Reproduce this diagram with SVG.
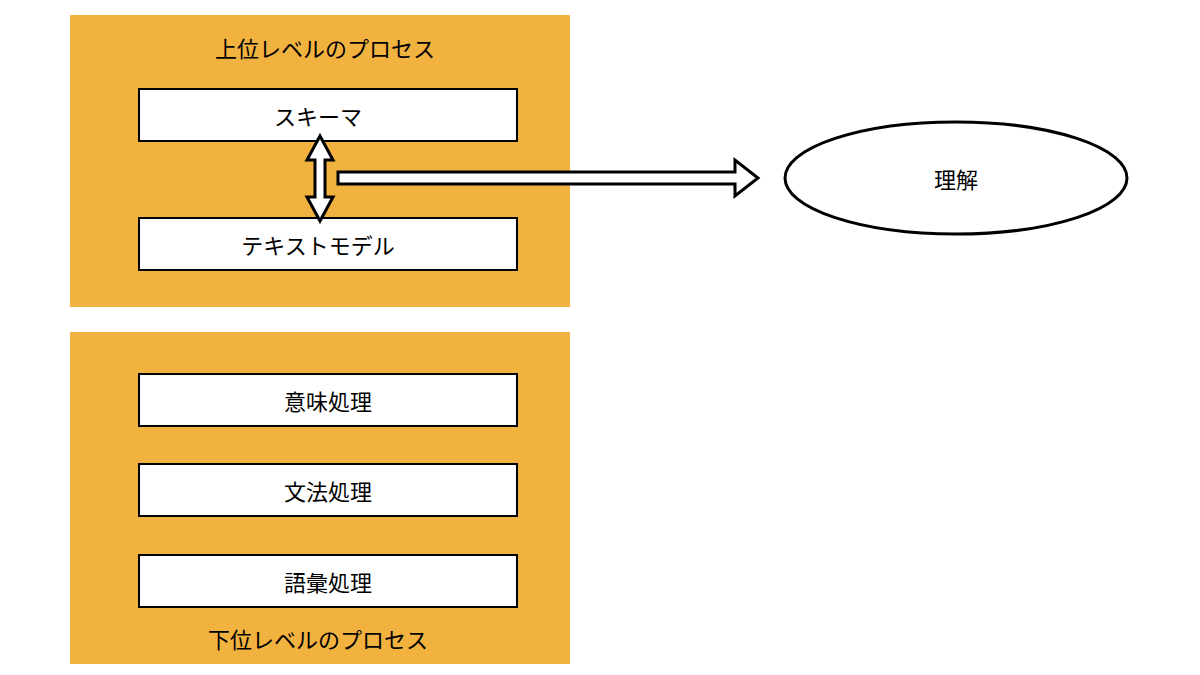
<svg xmlns="http://www.w3.org/2000/svg" width="1200" height="675" viewBox="0 0 1200 675">
<style>
.panel{fill:#F2B240}
.box{fill:#fff;stroke:#000;stroke-width:2}
.arr{fill:#fff;stroke:#000;stroke-width:3;stroke-linejoin:miter}
text{font-family:"Noto Sans CJK JP","Noto Sans",sans-serif;font-size:22px;fill:#000;text-anchor:middle;dominant-baseline:central}
</style>
<rect width="1200" height="675" fill="#fff"/>
<g id="upper"><rect class="panel" x="70" y="15" width="500" height="292"/><text x="325" y="47">上位レベルのプロセス</text></g>
<g id="lower"><rect class="panel" x="70" y="332" width="500" height="332"/><text x="318" y="638">下位レベルのプロセス</text></g>
<g id="schema"><rect class="box" x="139" y="89" width="378" height="52"/><text x="318" y="115">スキーマ</text></g>
<g id="textmodel"><rect class="box" x="139" y="218" width="378" height="52"/><text x="318" y="244">テキストモデル</text></g>
<g id="semantic"><rect class="box" x="139" y="374" width="378" height="52"/><text x="328" y="400">意味処理</text></g>
<g id="grammar"><rect class="box" x="139" y="464" width="378" height="52"/><text x="328" y="490">文法処理</text></g>
<g id="lexical"><rect class="box" x="139" y="555" width="378" height="52"/><text x="328" y="581">語彙処理</text></g>
<g id="understanding"><ellipse cx="956" cy="178" rx="171" ry="56" fill="#fff" stroke="#000" stroke-width="3"/><text x="956" y="178">理解</text></g>
<g id="connectors">
<path class="arr" d="M320,136 L333,160 L325,160 L325,197 L333,197 L320,221 L307,197 L315,197 L315,160 L307,160 Z"/>
<path class="arr" d="M338,172 L735,172 L735,160 L758,178 L735,196 L735,184 L338,184 Z"/>
</g>
</svg>
